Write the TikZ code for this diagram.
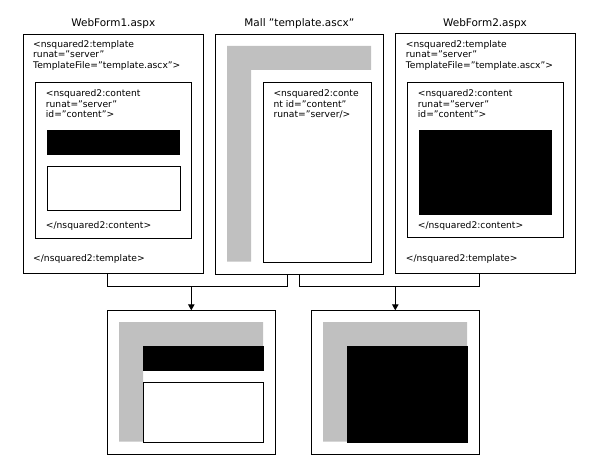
\documentclass[tikz,border=0pt]{standalone}
\usepackage{fontspec}
\setmainfont{DejaVu Sans}
\usetikzlibrary{arrows.meta}
\definecolor{lgray}{HTML}{C0C0C0}
\tikzset{
  box/.style={draw, line width=0.9bp, inner sep=0pt, outer sep=0pt, anchor=north west},
  blackbar/.style={fill=black, draw=none, inner sep=0pt, outer sep=0pt, anchor=north west},
  code/.style={anchor=base west, inner sep=0pt, font=\fontsize{9.2}{10.5}\selectfont},
  title/.style={anchor=base, inner sep=0pt, font=\fontsize{10.5}{12}\selectfont},
  conn/.style={line width=0.9bp},
  arr/.style={line width=0.9bp, -{Triangle[length=6bp,width=6.5bp]}},
  lshape/.style={fill=lgray, draw=none}
}
\begin{document}
\begin{tikzpicture}[x=1bp, y=-1bp]
\useasboundingbox (0,0) rectangle (605,475);

% ---------- WebForm1 ----------
\node[title] (t1) at (113.3,26.7) {WebForm1.aspx};
\node[box, minimum width=180bp, minimum height=239.3bp] (wf1) at (23.3,34) {};
\node[code] (wf1a) at (33,47.3) {<nsquared2:template};
\node[code] (wf1b) at (33,57.8) {runat=”server”};
\node[code] (wf1c) at (33,68.3) {TemplateFile=”template.ascx”>};
\node[box, minimum width=156.5bp, minimum height=156.3bp] (c1) at (35,82) {};
\node[code] (c1a) at (45.7,96.7) {<nsquared2:content};
\node[code] (c1b) at (45.7,107.3) {runat=”server”};
\node[code] (c1c) at (45.7,117.9) {id=”content”>};
\node[blackbar, minimum width=133.3bp, minimum height=25bp] (b1) at (46.7,130) {};
\node[box, fill=white, minimum width=132.7bp, minimum height=44.7bp] (w1) at (47.3,166) {};
\node[code] (c1d) at (45.7,228.3) {</nsquared2:content>};
\node[code] (wf1d) at (33,261.7) {</nsquared2:template>};

% ---------- Mall ----------
\node[title] (t2) at (299.3,26.7) {Mall ”template.ascx”};
\node[box, minimum width=168bp, minimum height=240bp] (mall) at (215.3,34) {};
\fill[lshape] (227,46) -- (371,46) -- (371,70) -- (251,70) -- (251,261.7) -- (227,261.7) -- cycle;
\node[box, minimum width=108.2bp, minimum height=179.7bp] (mc) at (263.3,82.3) {};
\node[code] (mca) at (273.3,96.7) {<nsquared2:conte};
\node[code] (mcb) at (273.3,107.3) {nt id=”content”};
\node[code] (mcc) at (273.3,117.9) {runat=”server/>};

% ---------- WebForm2 ----------
\node[title] (t3) at (485,26.7) {WebForm2.aspx};
\node[box, minimum width=180bp, minimum height=240bp] (wf2) at (395,33.3) {};
\node[code] (wf2a) at (405.7,47.3) {<nsquared2:template};
\node[code] (wf2b) at (405.7,57.8) {runat=”server”};
\node[code] (wf2c) at (405.7,68.3) {TemplateFile=”template.ascx”>};
\node[box, minimum width=156bp, minimum height=155.3bp] (c2) at (407.3,82.3) {};
\node[code] (c2a) at (417.7,96.7) {<nsquared2:content};
\node[code] (c2b) at (417.7,107.3) {runat=”server”};
\node[code] (c2c) at (417.7,117.9) {id=”content”>};
\node[blackbar, minimum width=133bp, minimum height=85bp] (b2) at (419,130) {};
\node[code] (c2d) at (417.7,228.3) {</nsquared2:content>};
\node[code] (wf2d) at (405.7,261.7) {</nsquared2:template>};

% ---------- Results ----------
\node[box, minimum width=168bp, minimum height=144bp] (r1) at (107.3,310.3) {};
\fill[lshape] (119,322) -- (263,322) -- (263,346) -- (143,346) -- (143,441.7) -- (119,441.7) -- cycle;
\node[blackbar, minimum width=121bp, minimum height=25bp] (rb1) at (143,346) {};
\node[box, fill=white, minimum width=120.4bp, minimum height=60bp] (rw1) at (143.3,382.3) {};

\node[box, minimum width=168bp, minimum height=144bp] (r2) at (311.3,310.3) {};
\fill[lshape] (323,322) -- (467,322) -- (467,346) -- (347,346) -- (347,441.7) -- (323,441.7) -- cycle;
\node[blackbar, minimum width=121bp, minimum height=96.7bp] (rb2) at (347,346) {};

% ---------- Connectors ----------
\coordinate (bus) at (0,286);
\coordinate (mL) at (287.7,274);
\coordinate (mR) at (299.3,274);
\draw[conn] (r1.west |- wf1.south) -- (r1.west |- bus) -| (mL);
\draw[conn] (mR) -- (mR |- bus) -| (r2.east |- wf2.south);
\draw[arr] (r1.north |- bus) -- (r1.north);
\draw[arr] (r2.north |- bus) -- (r2.north);
\end{tikzpicture}
\end{document}
